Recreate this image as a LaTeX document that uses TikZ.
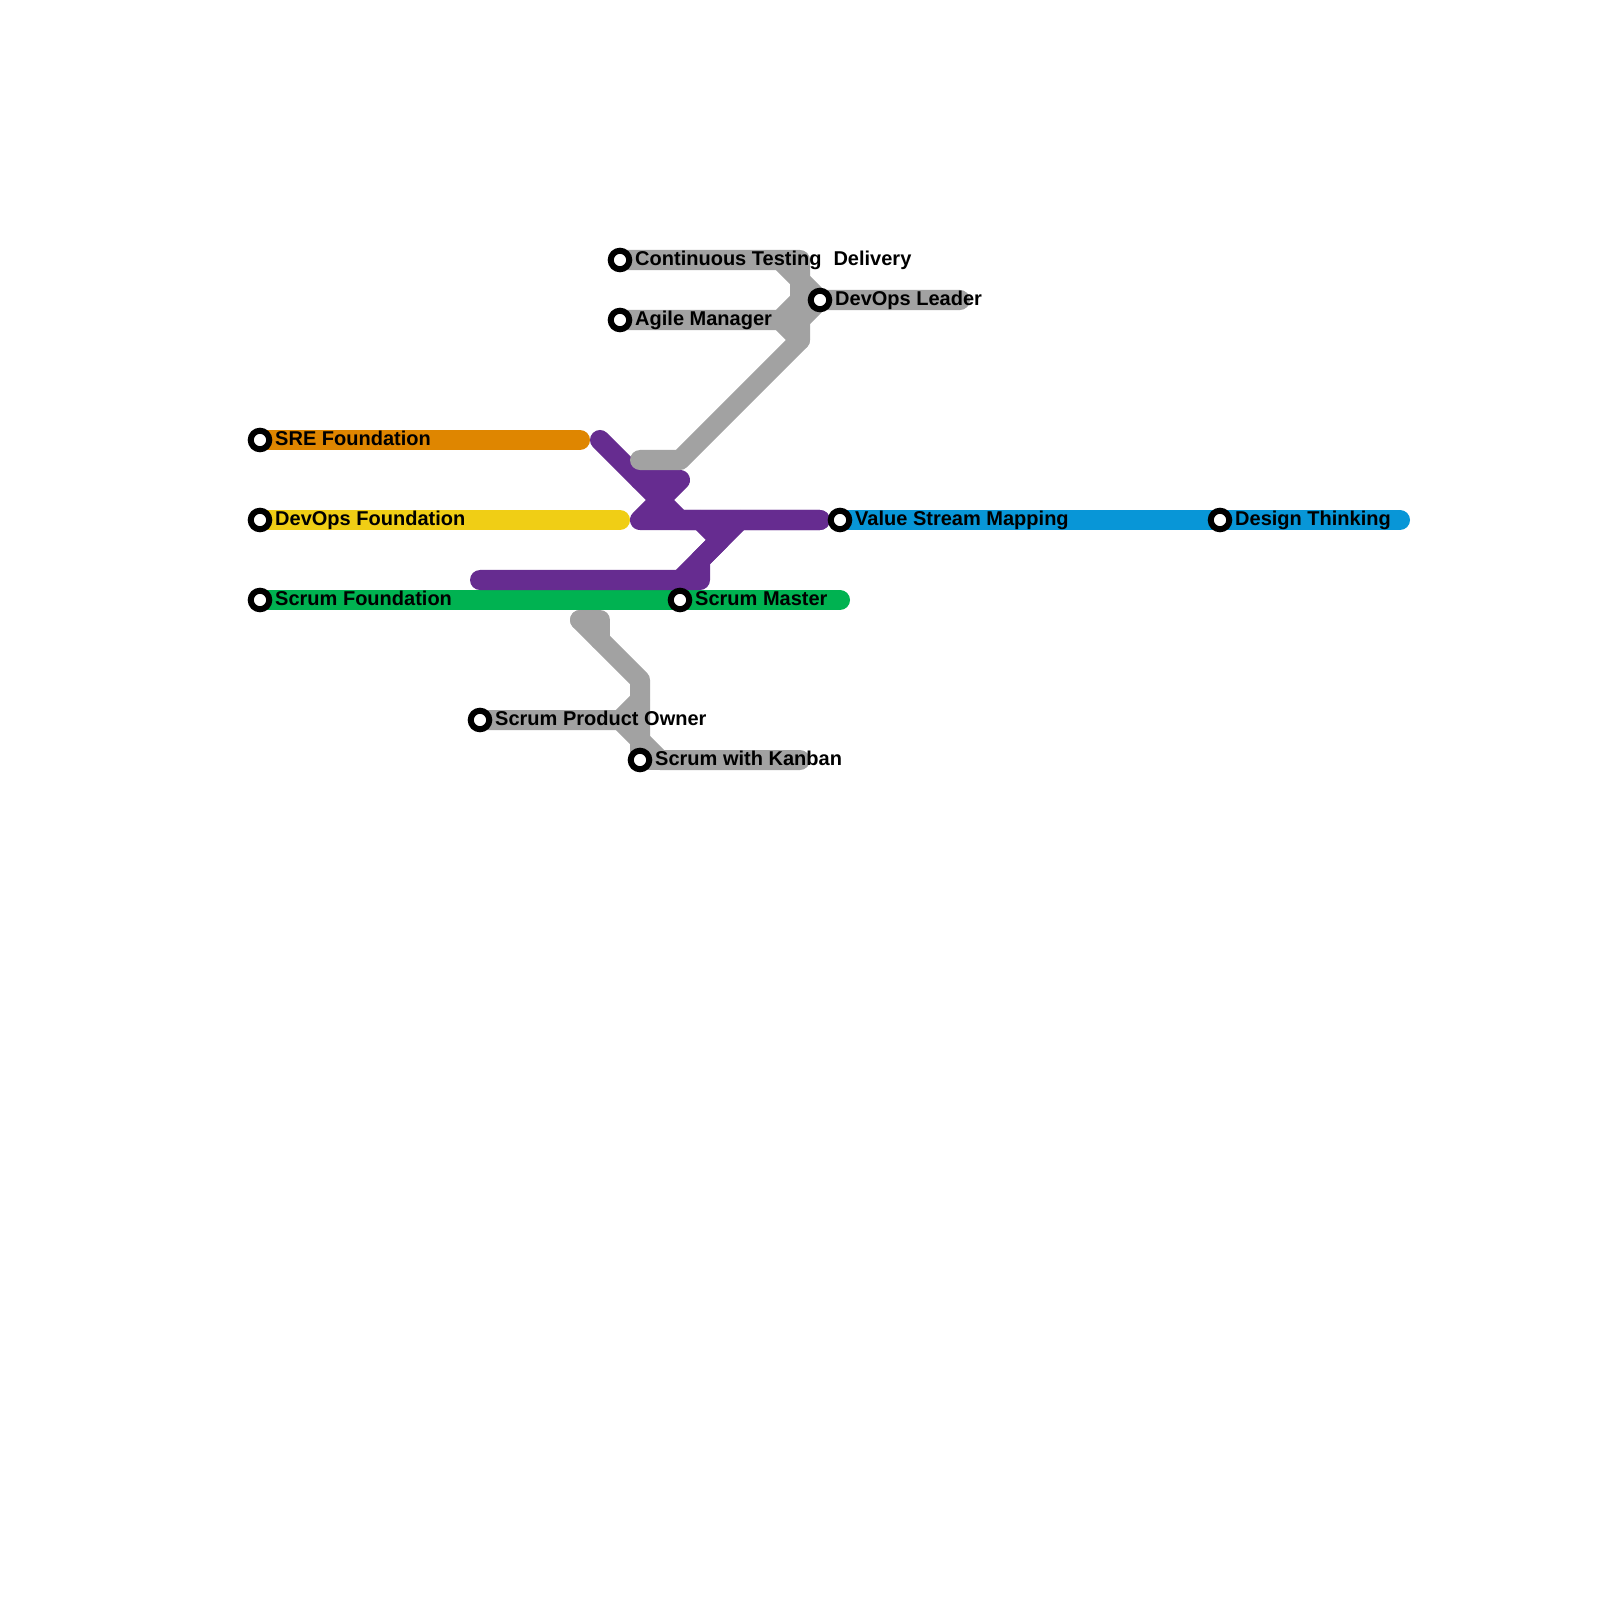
\documentclass[tikz,border=0pt]{standalone}
\usepackage{fontspec}
\setmainfont{Liberation Sans}
\usetikzlibrary{positioning}

\definecolor{lineorange}{HTML}{DF8600}
\definecolor{lineyellow}{HTML}{F0CE15}
\definecolor{linegreen}{HTML}{00B251}
\definecolor{linepurple}{HTML}{662C90}
\definecolor{linegray}{HTML}{A2A2A2}
\definecolor{lineblue}{HTML}{0896D7}

\begin{document}
\begin{tikzpicture}[x=0.01cm, y=-0.01cm]

    \tikzset{
        track/.style={
            line width=0.2cm,
            line cap=round,
            line join=round
        },
        stop/.style={
            draw=black,
            circle,
            line width=0.06cm,
            fill=white,
            minimum size=0.185cm,
            inner sep=0pt
        },
        stoplabel/.style={
            font=\fontsize{5.69pt}{7pt}\selectfont\bfseries,
            text=black,
            inner sep=0pt,
            text height=0.15cm,
            text depth=0.05cm
        }
    }

    \useasboundingbox (0,0) rectangle (1600,1600);

    % stations
    \coordinate (ct) at (620,260);
    \coordinate (am) at (620,320);
    \coordinate (dl) at (820,300);
    \coordinate (cd) at (820,260);
    \coordinate (sre) at (260,440);
    \coordinate (dof) at (260,520);
    \coordinate (sf) at (260,600);
    \coordinate (vsm) at (840,520);
    \coordinate (dt) at (1220,520);
    \coordinate (sm) at (680,600);
    \coordinate (spo) at (480,720);
    \coordinate (swk) at (640,760);

    % line ends and bends
    \coordinate (sreEnd) at (580,440);
    \coordinate (dofEnd) at (620,520);
    \coordinate (sfEnd) at (840,600);
    \coordinate (dtEnd) at (1400,520);
    \coordinate (dlEnd) at (960,300);
    \coordinate (swkEnd) at (800,760);

    \coordinate (pa) at (600,440);
    \coordinate (pb) at (640,480);
    \coordinate (pc) at (680,480);
    \coordinate (pd) at (640,520);
    \coordinate (pe) at (680,520);
    \coordinate (pf) at (820,520);
    \coordinate (pg) at (700,520);
    \coordinate (ph) at (720,540);
    \coordinate (pi) at (740,520);
    \coordinate (pj) at (680,580);
    \coordinate (pk) at (480,580);
    \coordinate (pl) at (700,580);
    \coordinate (pm) at (700,560);

    \coordinate (ga) at (800,260);
    \coordinate (gb) at (780,260);
    \coordinate (gc) at (800,280);
    \coordinate (gd) at (800,300);
    \coordinate (ge) at (780,320);
    \coordinate (gf) at (800,320);
    \coordinate (gg) at (800,340);
    \coordinate (gh) at (680,460);
    \coordinate (gi) at (640,460);

    \coordinate (gj) at (580,620);
    \coordinate (gk) at (600,620);
    \coordinate (gl) at (600,640);
    \coordinate (gm) at (640,680);
    \coordinate (gn) at (640,700);
    \coordinate (go) at (620,720);
    \coordinate (gp) at (640,740);
    \coordinate (gq) at (660,760);

    % coloured lines
    \draw[track, lineorange] (sre) -- (sreEnd);
    \draw[track, lineyellow] (dof) -- (dofEnd);
    \draw[track, linegreen] (sf) -- (sfEnd);
    \draw[track, lineblue] (vsm) -- (dtEnd);

    % purple lines
    \draw[track, linepurple] (pa) -- (pb) -- (pe) -- (pf);
    \draw[track, linepurple] (pb) -- (pc) -- (pd) -- (pf);
    \draw[track, linepurple] (pk) -- (pl) -- (pm) -- (ph) -- (pi);
    \draw[track, linepurple] (pj) -- (ph) -- (pg);

    % gray lines, top
    \draw[track, linegray] (ct) -- (ga) -- (gg) -- (gh) -- (gi);
    \draw[track, linegray] (gb) -- (gc) -- (dl) -- (dlEnd);
    \draw[track, linegray] (am) -- (ge) -- (gd);
    \draw[track, linegray] (ge) -- (gg);
    \draw[track, linegray] (dl) -- (gf);

    % gray lines, bottom
    \draw[track, linegray] (gj) -- (gk) -- (gl);
    \draw[track, linegray] (gj) -- (gm) -- (gp) -- (swk);
    \draw[track, linegray] (spo) -- (go) -- (gn);
    \draw[track, linegray] (go) -- (gp) -- (gq) -- (swkEnd);
    \draw[track, linegray] (swk) -- (gq);

    % station circles
    \node[stop] (ctStop) at (ct) {};
    \node[stop] (amStop) at (am) {};
    \node[stop] (dlStop) at (dl) {};
    \node[stop] (sreStop) at (sre) {};
    \node[stop] (dofStop) at (dof) {};
    \node[stop] (sfStop) at (sf) {};
    \node[stop] (vsmStop) at (vsm) {};
    \node[stop] (dtStop) at (dt) {};
    \node[stop] (smStop) at (sm) {};
    \node[stop] (spoStop) at (spo) {};
    \node[stop] (swkStop) at (swk) {};

    % station labels
    \node[stoplabel, right=0.0225cm of ctStop] (ctText) {Continuous Testing};
    \node[stoplabel, right=0.0225cm of amStop] (amText) {Agile Manager};
    \node[stoplabel, right=0.0225cm of dlStop] (dlText) {DevOps Leader};
    \node[stoplabel, anchor=west] (cdText) at ([xshift=0.128cm]cd) {Delivery};
    \node[stoplabel, right=0.0225cm of sreStop] (sreText) {SRE Foundation};
    \node[stoplabel, right=0.0225cm of dofStop] (dofText) {DevOps Foundation};
    \node[stoplabel, right=0.0225cm of sfStop] (sfText) {Scrum Foundation};
    \node[stoplabel, right=0.0225cm of vsmStop] (vsmText) {Value Stream Mapping};
    \node[stoplabel, right=0.0225cm of dtStop] (dtText) {Design Thinking};
    \node[stoplabel, right=0.0225cm of smStop] (smText) {Scrum Master};
    \node[stoplabel, right=0.0225cm of spoStop] (spoText) {Scrum Product Owner};
    \node[stoplabel, right=0.0225cm of swkStop] (swkText) {Scrum with Kanban};

\end{tikzpicture}
\end{document}
